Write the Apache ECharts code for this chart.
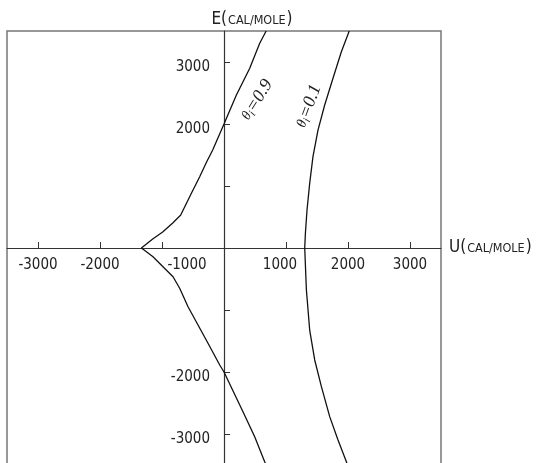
<!DOCTYPE html>
<html>
<head>
<meta charset="utf-8">
<script src="https://cdn.jsdelivr.net/npm/echarts@6/dist/echarts.min.js"></script>
<style>html,body{margin:0;padding:0;background:#fff;}#c{width:536px;height:463px;}</style>
</head>
<body>
<div id="c"></div>
<script>
// ---- data (U, E in cal/mole) ----
var theta09U = [680, 576, 415, 200, 0, -182, -279, -392, -526, -698, -827, -989, -1150, -1332, -1145, -984, -822, -715, -580, -419, -258, -69, 0, 306, 495, 656, 680];
var theta09E = [3500, 3302, 2898, 2468, 2000, 1580, 1392, 1150, 882, 532, 403, 258, 145, 0, -140, -302, -463, -650, -947, -1242, -1537, -1887, -2000, -2640, -3043, -3447, -3500];
var theta01U = [2020, 1893, 1758, 1624, 1516, 1435, 1382, 1339, 1313, 1302, 1329, 1382, 1463, 1571, 1705, 1839, 1974, 1990];
var theta01E = [3500, 3166, 2737, 2306, 1900, 1473, 1043, 613, 237, 0, -677, -1323, -1806, -2237, -2720, -3097, -3447, -3500];
var tickValues = [-3000, -2000, -1000, 1000, 2000, 3000];
var xLabelValues = [-3000, -2000, -1000, 1000, 2000, 3000];
var yLabelValues = [-3000, -2000, 2000, 3000];
var curveNames = ['0.9', '0.1'];
var labelCoords09 = [532, 2387];
var labelCoords01 = [1366, 2290];

function pairs(u, e) { return u.map(function (v, i) { return [v, e[i]]; }); }

var GRID_W = 434, GRID_H = 434;
var FONT = "'Liberation Sans Narrow', 'DejaVu Sans Condensed', sans-serif";
var FS = 15;
var chart = echarts.init(document.getElementById('c'));
var lblRich = {
  a: { fontFamily: 'Liberation Serif', fontStyle: 'italic', fontSize: 14, color: '#222' },
  b: { fontFamily: 'Liberation Serif', fontStyle: 'italic', fontSize: 11, color: '#222', padding: [7, 0, 0, 0] },
  c: { fontFamily: 'Liberation Serif', fontStyle: 'italic', fontSize: 18, color: '#222' }
};
function curveLabel(coord, name, rot) {
  return {
    symbol: 'circle', symbolSize: 0, silent: true,
    itemStyle: { color: 'rgba(0,0,0,0)' },
    label: { show: true, position: 'inside', rotate: rot, formatter: '{a|θ}{b|i}{c|=' + name + '}', rich: lblRich },
    data: [{ coord: coord }]
  };
}
var nameRich = { b: { fontFamily: FONT, fontSize: 17, color: '#222' }, s: { fontFamily: FONT, fontSize: 12.5, color: '#222', padding: [2, 1, 0, 1] } };
chart.setOption({
  animation: false,
  grid: { left: 7, top: 31, width: GRID_W, height: GRID_H, containLabel: false, outerBoundsMode: 'none', show: true, borderColor: '#777', borderWidth: 1.5, backgroundColor: 'transparent' },
  xAxis: {
    type: 'value', min: -3500, max: 3500, position: 'bottom', offset: -GRID_H / 2,
    axisLine: { onZero: false, lineStyle: { color: '#333', width: 1.2 } },
    splitLine: { show: false },
    axisTick: { show: true, inside: true, length: 6, customValues: tickValues, lineStyle: { color: '#333' } },
    axisLabel: {
      customValues: xLabelValues, margin: 10, color: '#222', fontFamily: FONT, fontSize: FS,
      formatter: function (v) {
        if (v === -1000) return '{r|' + String(v) + '}';
        if (v === 1000) return '{l|' + String(v) + '}';
        return '{n|' + String(v) + '}';
      },
      rich: {
        n: { fontFamily: FONT, fontSize: FS, color: '#222' },
        r: { fontFamily: FONT, fontSize: FS, color: '#222', padding: [0, 0, 0, 50] },
        l: { fontFamily: FONT, fontSize: FS, color: '#222', padding: [0, 12, 0, 0] }
      }
    },
    name: '{b|U(}{s|CAL/MOLE}{b|)}', nameLocation: 'end', nameGap: 8,
    nameTextStyle: { align: 'left', verticalAlign: 'middle', rich: nameRich }
  },
  yAxis: {
    type: 'value', min: -3500, max: 3500, position: 'left', offset: -GRID_W / 2,
    axisLine: { onZero: false, lineStyle: { color: '#333', width: 1.2 } },
    splitLine: { show: false },
    axisTick: { show: true, inside: true, length: 6, customValues: tickValues, lineStyle: { color: '#333' } },
    axisLabel: {
      customValues: yLabelValues, margin: 14, color: '#222', fontFamily: FONT, fontSize: FS,
      formatter: function (v) { return '{n|' + String(v) + '}'; },
      rich: { n: { fontFamily: FONT, fontSize: FS, color: '#222', padding: [10, 0, 0, 0] } }
    },
    name: '{b|E(}{s|CAL/MOLE}{b|)}', nameLocation: 'end', nameGap: 3,
    nameTextStyle: { align: 'center', padding: [0, 0, 0, 56], rich: nameRich }
  },
  series: [
    {
      type: 'line', name: curveNames[0], data: pairs(theta09U, theta09E), showSymbol: false, symbol: 'none',
      lineStyle: { color: '#111', width: 1.3 }, z: 3,
      markPoint: curveLabel(labelCoords09, curveNames[0], 58)
    },
    {
      type: 'line', name: curveNames[1], data: pairs(theta01U, theta01E), showSymbol: false, symbol: 'none',
      lineStyle: { color: '#111', width: 1.3 }, z: 3,
      markPoint: curveLabel(labelCoords01, curveNames[1], 70)
    }
  ]
});
</script>
</body>
</html>
